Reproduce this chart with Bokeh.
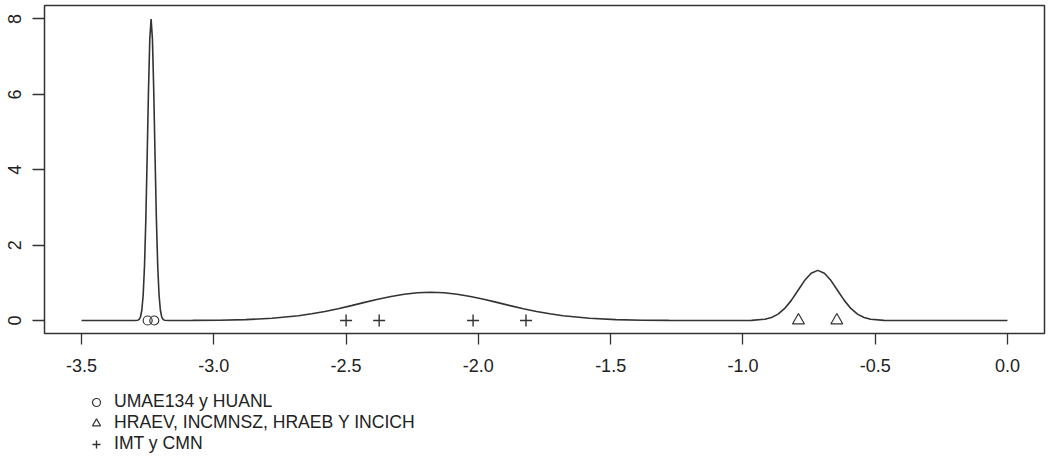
from bokeh.plotting import figure
from bokeh.layouts import column
from bokeh.models import Range1d, FixedTicker, Legend, LegendItem
from bokeh.embed import file_html
from bokeh.resources import INLINE

# density curve
curve_x = [-3.5, -3.30, -3.287, -3.282, -3.277, -3.272, -3.267, -3.262, -3.257, -3.252,
           -3.247, -3.242, -3.237, -3.232, -3.227, -3.222, -3.217, -3.212, -3.207, -3.202,
           -3.197, -3.192, -3.187, -3.17, -3.08, -2.98, -2.88, -2.78, -2.68, -2.63,
           -2.58, -2.53, -2.48, -2.43, -2.38, -2.33, -2.28, -2.23, -2.18, -2.13,
           -2.08, -2.03, -1.98, -1.93, -1.88, -1.83, -1.78, -1.73, -1.68, -1.58,
           -1.48, -1.38, -1.28, -1.18, -1.017, -0.967, -0.917, -0.892, -0.867, -0.842,
           -0.817, -0.792, -0.767, -0.742, -0.717, -0.692, -0.667, -0.642, -0.617, -0.592,
           -0.567, -0.542, -0.517, -0.467, -0.417, 0.0]
curve_y = [0.0, 0.0, 0.008, 0.031, 0.099, 0.278, 0.676, 1.44, 2.67, 4.32,
           6.08, 7.47, 8.0, 7.47, 6.08, 4.32, 2.67, 1.44, 0.676, 0.278,
           0.099, 0.031, 0.008, 0.001, 0.0024, 0.008, 0.023, 0.058, 0.127, 0.178,
           0.240, 0.314, 0.395, 0.481, 0.564, 0.639, 0.698, 0.737, 0.75, 0.737,
           0.698, 0.639, 0.564, 0.481, 0.395, 0.314, 0.240, 0.178, 0.127, 0.058,
           0.023, 0.008, 0.0024, 0.0006, 0.0004, 0.0044, 0.0345, 0.081, 0.170, 0.319,
           0.534, 0.796, 1.059, 1.256, 1.33, 1.256, 1.059, 0.796, 0.534, 0.319,
           0.170, 0.081, 0.0345, 0.0044, 0.0004, 0.0]

group_labels = ["UMAE134 y HUANL", "HRAEV, INCMNSZ, HRAEB Y INCICH", "IMT y CMN"]
circles_x = [-3.25, -3.225]
triangles_x = [-0.79, -0.645]
plus_x = [-2.50, -2.375, -2.02, -1.82]

x_ticks = [-3.5, -3.0, -2.5, -2.0, -1.5, -1.0, -0.5, 0.0]
y_ticks = [0, 2, 4, 6, 8]

INK = "#333333"
TXT = "#222222"
FONT = "Liberation Sans"

p = figure(width=1049, height=385, output_backend="svg", toolbar_location=None,
           x_range=Range1d(-3.64, 0.14), y_range=Range1d(-0.345, 8.358),
           min_border_left=44, min_border_right=5, min_border_top=5, min_border_bottom=52)
p.grid.visible = False
p.background_fill_color = "white"
p.border_fill_color = "white"
p.outline_line_color = INK
p.outline_line_width = 1.5

p.line(curve_x, curve_y, line_color=INK, line_width=1.6)

marker_styles = [("circle", 9, 1.2), ("triangle", 12, 1.2), ("cross", 12, 1.4)]
xs_groups = [circles_x, triangles_x, plus_x]
for (mk, sz, lw), xs in zip(marker_styles, xs_groups):
    p.scatter(xs, [0] * len(xs), marker=mk, size=sz,
              fill_color=None, line_color=INK, line_width=lw)

for ax in (p.xaxis[0], p.yaxis[0]):
    ax.axis_line_color = None
    ax.major_tick_line_color = INK
    ax.major_tick_line_width = 1.3
    ax.major_tick_in = 0
    ax.minor_tick_line_color = None
    ax.major_label_text_font = FONT
    ax.major_label_text_font_size = "18px"
    ax.major_label_text_color = TXT

p.xaxis[0].ticker = FixedTicker(ticks=x_ticks)
p.xaxis[0].major_label_overrides = {t: f"{t:.1f}" for t in x_ticks}
p.xaxis[0].major_tick_out = 11
p.xaxis[0].major_label_standoff = 14

p.yaxis[0].ticker = FixedTicker(ticks=y_ticks)
p.yaxis[0].major_label_overrides = {t: str(t) for t in y_ticks}
p.yaxis[0].major_tick_out = 12
p.yaxis[0].major_label_standoff = 11
p.yaxis[0].major_label_orientation = "parallel"

# legend panel below the plot (its sample marks sit outside its visible range)
pl = figure(width=1049, height=73, output_backend="svg", toolbar_location=None,
            x_axis_type=None, y_axis_type=None,
            x_range=Range1d(0, 1), y_range=Range1d(0, 1),
            min_border_left=0, min_border_right=0, min_border_top=0, min_border_bottom=0)
pl.outline_line_color = None
pl.grid.visible = False
items = []
for (mk, sz, lw), lab in zip(marker_styles, group_labels):
    r = pl.scatter([-10], [-10], marker=mk, size=sz, fill_color=None,
                   line_color=INK, line_width=lw)
    items.append(LegendItem(label=lab, renderers=[r]))

legend = Legend(items=items, location=(42, 4), orientation="vertical",
                padding=0, margin=0, spacing=0,
                glyph_width=20, glyph_height=20, label_height=20, label_standoff=8,
                label_text_font=FONT, label_text_font_size="17.6px",
                label_text_color=TXT,
                background_fill_alpha=0, border_line_alpha=0)
pl.add_layout(legend, "center")

layout = column(p, pl, spacing=0)
open("out.html", "w").write(file_html(layout, INLINE))
